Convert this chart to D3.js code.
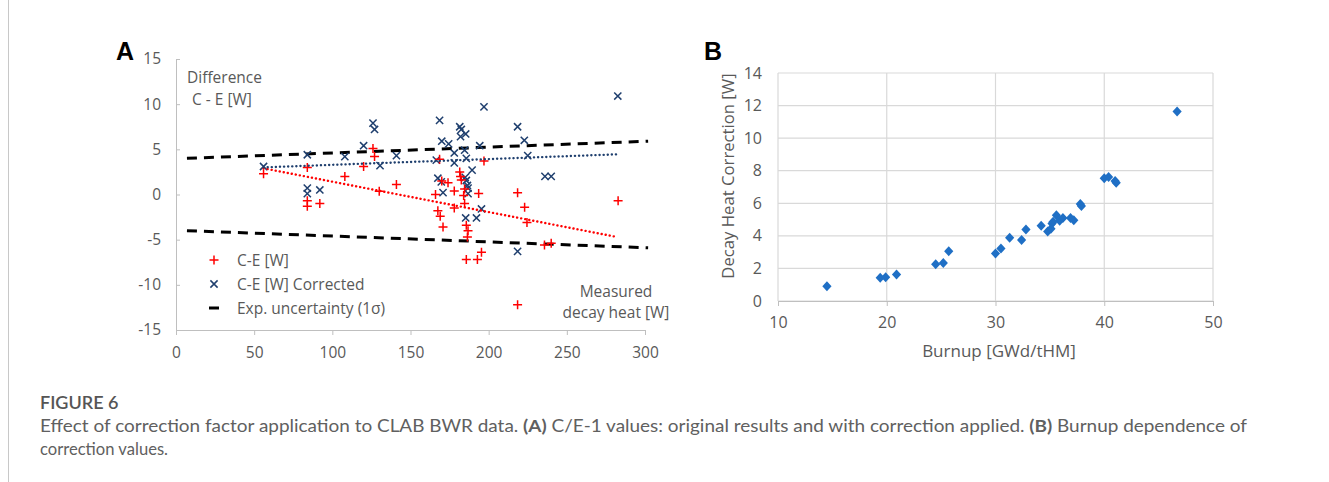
<!DOCTYPE html>
<html>
<head>
<meta charset="utf-8">
<script src="https://cdn.jsdelivr.net/npm/d3@7"></script>
<style>
  body { margin: 0; background: #fff; }
  svg { display: block; font-family: "Open Sans", sans-serif; }
</style>
</head>
<body>
<div id="fig"></div>
<script>
// panel A: measured decay heat [W] vs C-E [W]
var ceHeat = [56, 84, 84, 84, 92, 108, 120, 126, 127, 130, 141, 166, 167.5, 168.6, 169, 170, 170.8, 174, 178, 178,
              181.5, 182, 182.5, 184.6, 184, 184.6, 185.7, 186.8, 186.4, 185.7, 192.8, 195.4, 193.6, 197, 218.5, 218.5,
              223, 224.5, 235.7, 240, 282.8];
var ceDiff = [2.3, 3.0, -0.7, -1.3, -1.0, 2.0, 3.1, 5.1, 4.2, 0.35, 1.1, 0.0, -1.8, 3.9, -2.4, 1.5, -3.6, 1.3, 0.4, -1.5,
              2.5, 2.0, 1.6, 0.6, -0.1, -1.0, -3.4, -4.0, -4.7, -7.2, -7.2, -6.4, 0.1, 3.7, 0.2, -12.2,
              -1.4, -3.1, -5.6, -5.4, -0.7];
var corrHeat = [56, 84, 84, 84, 92, 108, 120, 126, 127, 130.5, 141, 166.5, 167.5, 168.6, 170, 169.7, 170.8, 174.4, 178, 178,
                181.5, 182.5, 182, 185.3, 184.6, 185.7, 185, 185.7, 186.4, 186.8, 186.8, 185.3, 192.2, 189.4, 194.3, 195.4,
                197, 218.5, 218.5, 222.8, 225, 236, 240, 282.6];
var corrDiff = [3.1, 4.4, 0.7, 0.1, 0.5, 4.2, 5.4, 7.9, 7.2, 3.2, 4.3, 3.8, 1.8, 8.2, 5.9, 1.4, 0.2, 5.6, 4.6, 3.5,
                7.5, 7.2, 6.4, 6.7, 4.9, 4.0, 1.9, 1.55, 1.0, 0.7, 0.1, -2.6, -2.6, 2.7, 5.4, -1.6,
                9.7, 7.5, -6.3, 6.0, 4.3, 2.0, 2.0, 10.9];
var uncUpper = [[7, 4.0], [302, 5.9]];
var uncLower = [[7, -4.0], [302, -5.9]];
var trendCE = [[56, 2.9], [282, -4.7]];
var trendCorr = [[56, 3.0], [283, 4.45]];
var ticksA_x = [0, 50, 100, 150, 200, 250, 300];
var ticksA_y = [-15, -10, -5, 0, 5, 10, 15];
var legendA = ["C-E [W]", "C-E [W] Corrected", "Exp. uncertainty (1σ)"];

// panel B: burnup [GWd/tHM] vs decay heat correction [W]
var burnup = [14.5, 19.4, 19.9, 20.9, 24.5, 25.2, 25.7, 30.0, 30.5, 31.3, 32.4, 32.8, 34.2, 34.8, 35.1, 35.2, 35.3,
              35.6, 35.9, 36.2, 36.9, 37.2, 37.8, 37.9, 40.0, 40.4, 41.0, 41.1, 46.7];
var correction = [0.9, 1.42, 1.46, 1.62, 2.26, 2.34, 3.06, 2.92, 3.22, 3.88, 3.74, 4.39, 4.62, 4.27, 4.43, 4.76, 4.86,
                  5.27, 4.92, 5.1, 5.1, 4.96, 5.95, 5.83, 7.53, 7.61, 7.37, 7.26, 11.63];
var ticksB_x = [10, 20, 30, 40, 50];
var ticksB_y = [0, 2, 4, 6, 8, 10, 12, 14];

var W = 1329, H = 482;
var svg = d3.select("#fig").append("svg").attr("width", W).attr("height", H);
var grayText = "#595959", axisGray = "#bfbfbf";
var plain = function(d) { return String(d); };   // hyphen minus like the original

// frame line on the left
svg.append("line").attr("x1", 8.5).attr("x2", 8.5).attr("y1", 0).attr("y2", H)
    .attr("stroke", "#c8c8c8").attr("stroke-width", 1);

// ---------- panel A ----------
var xA = d3.scaleLinear().domain([0, 300]).range([176, 645]);
var yA = d3.scaleLinear().domain([-15, 15]).range([330, 59]);
var gA = svg.append("g");
var fsA = "15.5px";

var axA_y = gA.append("g").attr("transform", "translate(" + xA(0) + ",0)")
    .call(d3.axisLeft(yA).tickValues(ticksA_y).tickFormat(plain).tickSize(-4).tickPadding(15));
var axA_x = gA.append("g").attr("transform", "translate(0," + yA(-15) + ")")
    .call(d3.axisBottom(xA).tickValues(ticksA_x).tickFormat(plain).tickSize(5).tickPadding(12));
[axA_y, axA_x].forEach(function(ax) {
    ax.select(".domain").attr("stroke", axisGray);
    ax.selectAll(".tick line").attr("stroke", axisGray);
    ax.selectAll("text").attr("fill", grayText).style("font-size", fsA).style("font-family", "Open Sans");
});

var lineA = d3.line().x(function(d) { return xA(d[0]); }).y(function(d) { return yA(d[1]); });
[uncUpper, uncLower].forEach(function(seg) {
    gA.append("path").attr("d", lineA(seg)).attr("fill", "none")
        .attr("stroke", "#000").attr("stroke-width", 3).attr("stroke-dasharray", "10,7");
});

var plusPath = "M-4.5,0H4.5M0,-4.5V4.5";
var crossPath = "M-3.6,-3.6L3.6,3.6M-3.6,3.6L3.6,-3.6";
gA.append("g").selectAll("path").data(d3.range(corrHeat.length)).join("path")
    .attr("transform", function(i) { return "translate(" + xA(corrHeat[i]) + "," + yA(corrDiff[i]) + ")"; })
    .attr("d", crossPath).attr("stroke", "#1f3f6e").attr("stroke-width", 1.5).attr("fill", "none");
gA.append("g").selectAll("path").data(d3.range(ceHeat.length)).join("path")
    .attr("transform", function(i) { return "translate(" + xA(ceHeat[i]) + "," + yA(ceDiff[i]) + ")"; })
    .attr("d", plusPath).attr("stroke", "#ff0000").attr("stroke-width", 1.5).attr("fill", "none");

gA.append("path").attr("d", lineA(trendCE)).attr("fill", "none").attr("stroke", "#ff0000")
    .attr("stroke-width", 2.4).attr("stroke-linecap", "round").attr("stroke-dasharray", "0.1,4");
gA.append("path").attr("d", lineA(trendCorr)).attr("fill", "none").attr("stroke", "#1f3f6e")
    .attr("stroke-width", 2.4).attr("stroke-linecap", "round").attr("stroke-dasharray", "0.1,4");

// annotations
gA.append("text").attr("x", 187).attr("y", 83).attr("fill", grayText).style("font-size", fsA).text("Difference");
gA.append("text").attr("x", 192).attr("y", 105).attr("fill", grayText).style("font-size", fsA).text("C - E [W]");
gA.append("text").attr("x", 616).attr("y", 297).attr("text-anchor", "middle").attr("fill", grayText)
    .style("font-size", fsA).text("Measured");
gA.append("text").attr("x", 616).attr("y", 318).attr("text-anchor", "middle").attr("fill", grayText)
    .style("font-size", fsA).text("decay heat [W]");

// legend
var leg = gA.append("g");
legendA.forEach(function(label, i) {
    var ly = 260 + i * 24;
    var g = leg.append("g").attr("transform", "translate(214," + ly + ")");
    if (i === 0) g.append("path").attr("d", plusPath).attr("stroke", "#ff0000").attr("stroke-width", 1.5);
    if (i === 1) g.append("path").attr("d", crossPath).attr("stroke", "#1f3f6e").attr("stroke-width", 1.5);
    if (i === 2) g.append("line").attr("x1", -5).attr("x2", 5).attr("stroke", "#000").attr("stroke-width", 3);
    leg.append("text").attr("x", 237).attr("y", ly + 5.5).attr("fill", grayText).style("font-size", fsA).text(label);
});

svg.append("text").attr("x", 116).attr("y", 60).style("font-family", "Liberation Sans, Arial, sans-serif")
    .style("font-weight", "bold").style("font-size", "25px").attr("fill", "#000").text("A");

// ---------- panel B ----------
var xB = d3.scaleLinear().domain([10, 50]).range([778, 1213]);
var yB = d3.scaleLinear().domain([0, 14]).range([301, 73]);
var gB = svg.append("g");
var fsB = "16px";

gB.append("g").selectAll("line").data(ticksB_y).join("line")
    .attr("x1", xB(10)).attr("x2", xB(50)).attr("y1", function(d) { return yB(d); }).attr("y2", function(d) { return yB(d); })
    .attr("stroke", "#d9d9d9").attr("stroke-width", 1.2);
gB.append("g").selectAll("line").data(ticksB_x).join("line")
    .attr("y1", yB(0)).attr("y2", yB(14)).attr("x1", function(d) { return xB(d); }).attr("x2", function(d) { return xB(d); })
    .attr("stroke", "#d9d9d9").attr("stroke-width", 1.2);

var axB_y = gB.append("g").attr("transform", "translate(" + xB(10) + ",0)")
    .call(d3.axisLeft(yB).tickValues(ticksB_y).tickFormat(plain).tickSize(0).tickPadding(16));
var axB_x = gB.append("g").attr("transform", "translate(0," + yB(0) + ")")
    .call(d3.axisBottom(xB).tickValues(ticksB_x).tickFormat(plain).tickSize(5).tickPadding(11));
axB_y.select(".domain").remove();
axB_x.select(".domain").attr("stroke", axisGray);
axB_x.selectAll(".tick line").attr("stroke", axisGray);
[axB_y, axB_x].forEach(function(ax) {
    ax.selectAll("text").attr("fill", grayText).style("font-size", fsB).style("font-family", "Open Sans");
});

gB.append("g").selectAll("path").data(d3.range(burnup.length)).join("path")
    .attr("transform", function(i) { return "translate(" + xB(burnup[i]) + "," + yB(correction[i]) + ")"; })
    .attr("d", "M0,-5L4.6,0L0,5L-4.6,0Z").attr("fill", "#1f6fc5");

gB.append("text").attr("x", 999).attr("y", 357).attr("text-anchor", "middle").attr("fill", grayText)
    .style("font-size", "17px").text("Burnup [GWd/tHM]");
gB.append("text").attr("transform", "translate(734,176) rotate(-90)").attr("text-anchor", "middle")
    .attr("fill", grayText).style("font-size", "16.7px").text("Decay Heat Correction [W]");

svg.append("text").attr("x", 704).attr("y", 60).style("font-family", "Liberation Sans, Arial, sans-serif")
    .style("font-weight", "bold").style("font-size", "25px").attr("fill", "#000").text("B");

// ---------- caption ----------
var cap = svg.append("g").attr("fill", "#606060").style("font-family", "Lato, 'Open Sans', sans-serif");
cap.append("text").attr("x", 40).attr("y", 409).style("font-size", "18px").style("font-weight", "600")
    .attr("fill", "#555").text("FIGURE 6");
var l1 = cap.append("text").attr("x", 40).attr("y", 432).style("font-size", "17px")
    .attr("textLength", 1207).attr("lengthAdjust", "spacingAndGlyphs");
l1.append("tspan").text("Effect of correction factor application to CLAB BWR data. ");
l1.append("tspan").style("font-weight", "bold").text("(A)");
l1.append("tspan").text(" C/E-1 values: original results and with correction applied. ");
l1.append("tspan").style("font-weight", "bold").text("(B)");
l1.append("tspan").text(" Burnup dependence of");
cap.append("text").attr("x", 40).attr("y", 455).style("font-size", "17px")
    .attr("textLength", 128).attr("lengthAdjust", "spacingAndGlyphs").text("correction values.");
</script>
</body>
</html>
